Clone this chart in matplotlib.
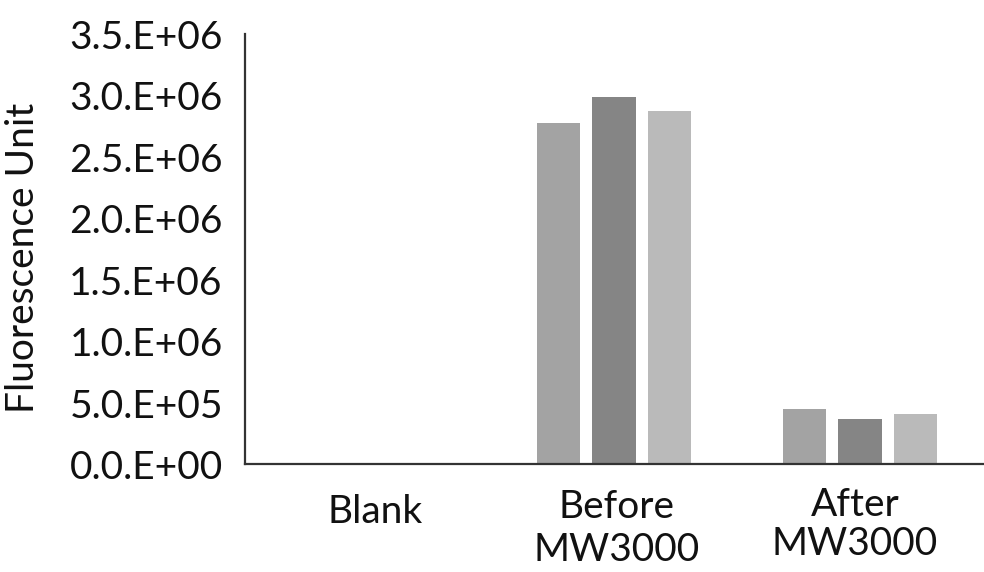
import numpy as np
import matplotlib.pyplot as plt
from matplotlib.ticker import FixedLocator, FixedFormatter

plt.rcParams['font.family'] = ['Lato', 'DejaVu Sans']

# three replicate readings per sample
groups = ["Blank", "Before\nMW3000", "After\nMW3000"]
rep1 = [0, 2.78e6, 0.45e6]
rep2 = [0, 2.99e6, 0.37e6]
rep3 = [0, 2.88e6, 0.41e6]
ytick_vals = [0, 0.5e6, 1.0e6, 1.5e6, 2.0e6, 2.5e6, 3.0e6, 3.5e6]
ytick_text = ["0.0.E+00", "5.0.E+05", "1.0.E+06", "1.5.E+06",
              "2.0.E+06", "2.5.E+06", "3.0.E+06", "3.5.E+06"]

fig = plt.figure(figsize=(9.84, 5.72), dpi=100)
ax = fig.add_axes([0.249, 0.188, 0.750, 0.752])

x = np.arange(len(groups))
w = 0.175
step = 0.224
ax.bar(x - step, rep1, w, color="#a3a3a3")
ax.bar(x, rep2, w, color="#858585")
ax.bar(x + step, rep3, w, color="#bababa")

ax.set_xlim(-0.5, 2.5)
ax.set_ylim(0, 3.5e6)
ax.yaxis.set_major_locator(FixedLocator(ytick_vals))
ax.yaxis.set_major_formatter(FixedFormatter(ytick_text))
ax.tick_params(axis="y", length=0, pad=16, labelsize=28, labelcolor="#111111")
ax.set_xticks([])

# category labels (the "After" label sits slightly higher)
label_y = [-0.068, -0.058, -0.052]
label_dx = [0.03, 0.01, -0.02]
label_ls = [1.0, 1.22, 1.12]
for xi, dx, name, yy, ls in zip(x, label_dx, groups, label_y, label_ls):
    ax.text(xi + dx, yy, name, transform=ax.get_xaxis_transform(), ha="center",
            va="top", fontsize=28, color="#111111", linespacing=ls)

ax.set_ylabel("Fluorescence Unit", fontsize=28, color="#111111")
ax.yaxis.set_label_coords(-0.276, 0.48)

for side in ["top", "right"]:
    ax.spines[side].set_visible(False)
for side in ["left", "bottom"]:
    ax.spines[side].set_color("#333333")
    ax.spines[side].set_linewidth(1.6)

plt.savefig("out.png", dpi=100)
